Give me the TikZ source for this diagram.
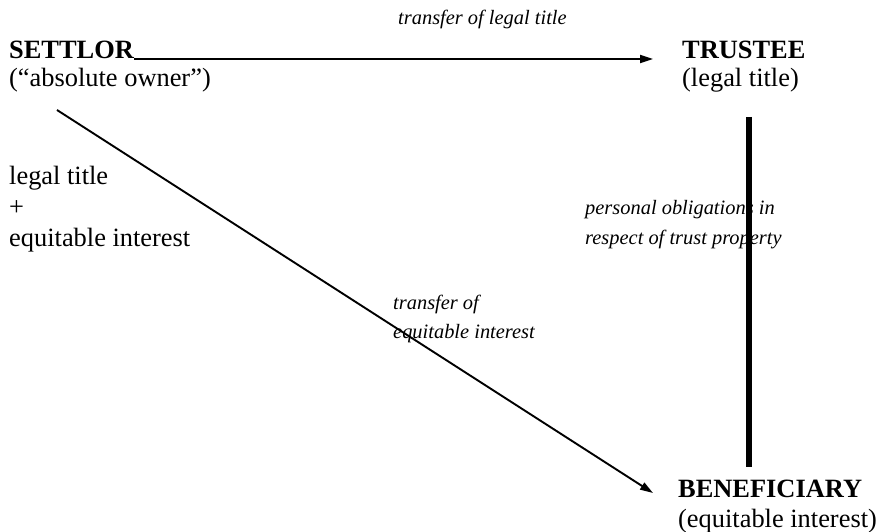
\documentclass[tikz,border=0pt]{standalone}
\usepackage{fontspec}
\setmainfont{Liberation Serif}[ItalicFont={Liberation Serif Italic},BoldFont={Liberation Serif Bold}]
\newfontfamily\labfont{Liberation Serif Italic}
\usetikzlibrary{arrows.meta}
\tikzset{
  big/.style={font=\fontsize{26.5}{31}\selectfont, inner sep=0pt, anchor=base west, align=left},
  bigb/.style={big, font=\fontsize{26.5}{31}\selectfont\bfseries},
  lab/.style={font=\labfont\fontsize{20.5}{30}\selectfont, inner sep=0pt, anchor=base west, align=left},
  conn/.style={line width=1.9bp, -{Triangle[length=13bp,width=8bp]}},
  thick line/.style={line width=6bp}
}
\begin{document}
\begin{tikzpicture}[x=1bp,y=-1bp]
\useasboundingbox (0,0) rectangle (881,532);
\node[bigb] (settlor) at (9,59) {SETTLOR};
\node[big] (owner) at (9,87) {(“absolute owner”)};
\node[big] (lt) at (9,185) {legal title};
\node[big] (plus) at (9,216) {+};
\node[big] (ei) at (9,247) {equitable interest};
\node[bigb] (trustee) at (682,59) {TRUSTEE};
\node[big] (tlt) at (682,87) {(legal title)};
\node[bigb] (benef) at (678,497) {BENEFICIARY};
\node[big] (bei) at (678,527) {(equitable interest)};
\node[lab] (tlegal) at (398,25) {transfer of legal title};
\node[lab] (pers1) at (585,215) {personal obligations in};
\node[lab] (pers2) at (585,245) {respect of trust property};
\node[lab] (teq1) at (393,310) {transfer of};
\node[lab] (teq2) at (393,339) {equitable interest};
\coordinate (hend) at (653,59);
\coordinate (dstart) at (57,110);
\coordinate (dend) at (653,493);
\coordinate (vtop) at (748.7,117);
\coordinate (vbot) at (748.7,467);
\draw[conn] (settlor.base east) -- (hend);
\draw[conn] (dstart) -- (dend);
\draw[thick line] (vtop) -- (vbot);
\end{tikzpicture}
\end{document}
